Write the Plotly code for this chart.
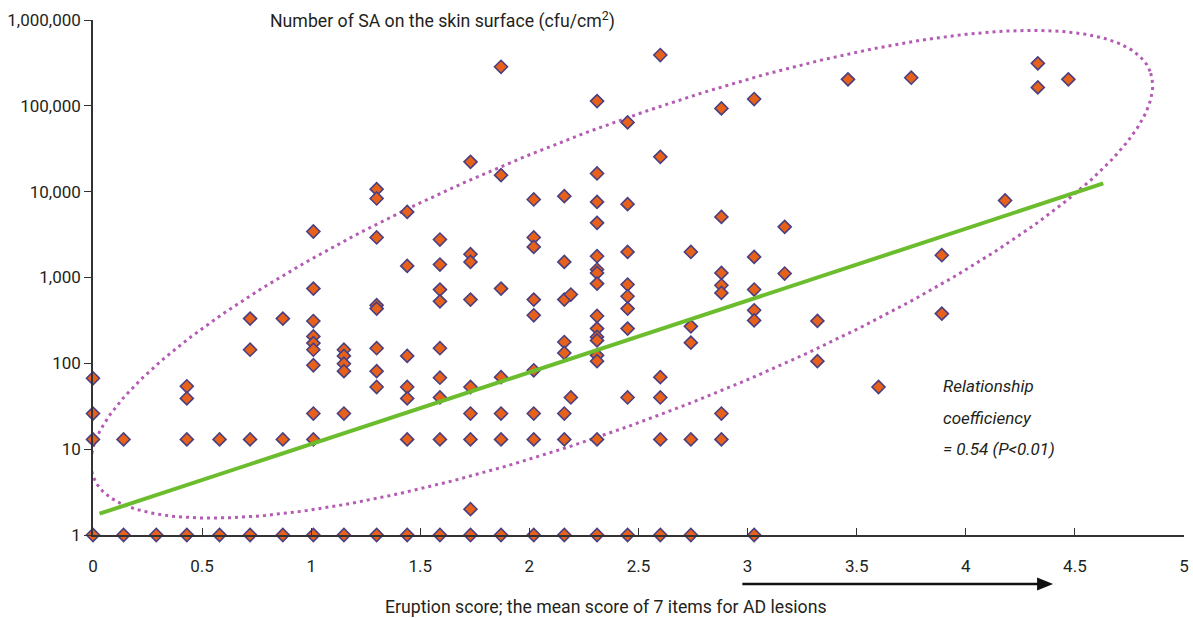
import numpy as np
import plotly.graph_objects as go

# ---- data ----
x_vals = [
    0.00, 0.00, 0.00, 0.00,
    0.14, 0.14,
    0.29,
    0.43, 0.43, 0.43, 0.43,
    0.58, 0.58,
    0.72, 0.72, 0.72, 0.72,
    0.87, 0.87, 0.87,
    1.01, 1.01, 1.01, 1.01, 1.01, 1.01, 1.01, 1.01, 1.01, 1.01,
    1.15, 1.15, 1.15, 1.15, 1.15, 1.15,
    1.30, 1.30, 1.30, 1.30, 1.30, 1.30, 1.30, 1.30, 1.30,
    1.44, 1.44, 1.44, 1.44, 1.44, 1.44, 1.44,
    1.59, 1.59, 1.59, 1.59, 1.59, 1.59, 1.59, 1.59, 1.59,
    1.73, 1.73, 1.73, 1.73, 1.73, 1.73, 1.73, 1.73, 1.73,
    1.87, 1.87, 1.87, 1.87, 1.87, 1.87, 1.87,
    2.02, 2.02, 2.02, 2.02, 2.02, 2.02, 2.02, 2.02, 2.02,
    2.16, 2.16, 2.16, 2.16, 2.16, 2.16, 2.16, 2.16,
    2.19, 2.19,
    2.31, 2.31, 2.31, 2.31, 2.31, 2.31, 2.31, 2.31, 2.31, 2.31, 2.31, 2.31, 2.31, 2.31, 2.31, 2.31,
    2.45, 2.45, 2.45, 2.45, 2.45, 2.45, 2.45, 2.45, 2.45,
    2.60, 2.60, 2.60, 2.60, 2.60, 2.60,
    2.74, 2.74, 2.74, 2.74, 2.74,
    2.88, 2.88, 2.88, 2.88, 2.88, 2.88, 2.88,
    3.03, 3.03, 3.03, 3.03, 3.03, 3.03,
    3.17, 3.17,
    3.32, 3.32,
    3.46,
    3.60,
    3.75,
    3.89, 3.89,
    4.18,
    4.33, 4.33,
    4.47,
]
sa_counts = [
    67, 26, 13, 1,
    13, 1,
    1,
    54, 39, 13, 1,
    13, 1,
    332, 144, 13, 1,
    332, 13, 1,
    3435, 743, 311, 206, 172, 144, 95, 26, 13, 1,
    144, 122, 99, 81, 26, 1,
    10700, 8330, 2925, 475, 434, 150, 81, 53, 1,
    5810, 1364, 122, 53, 39, 13, 1,
    2770, 1416, 723, 528, 150, 68, 40, 13, 1,
    22250, 1867, 1518, 553, 53, 26, 13, 2, 1,
    285000, 15570, 743, 69, 26, 13, 1,
    8110, 2925, 2270, 553, 363, 83, 26, 13, 1,
    8870, 1518, 553, 177, 132, 26, 13, 1,
    633, 40,
    113600, 16300, 7600, 4330, 1770, 1238, 1130, 849, 356, 254, 203, 185, 124, 106, 13, 1,
    64100, 7150, 1985, 828, 604, 434, 254, 40, 1,
    390500, 25450, 69, 40, 13, 1,
    1985, 270, 174, 13, 1,
    93400, 5080, 1130, 812, 661, 26, 13,
    120000, 1737, 724, 415, 316, 1,
    3890, 1113,
    312, 106,
    203400,
    53,
    212500,
    1817, 380,
    7890,
    312600, 164000,
    203400,
]

reg_x = [0.03, 4.63]
reg_y = [1.77, 12470]

x_tickvals = [0, 0.5, 1, 1.5, 2, 2.5, 3, 3.5, 4, 4.5, 5]
x_ticktext = ["0", "0.5", "1", "1.5", "2", "2.5", "3", "3.5", "4", "4.5", "5"]
y_tickvals = [1, 10, 100, 1000, 10000, 100000, 1000000]
y_ticktext = ["1", "10", "100", "1,000", "10,000", "100,000", "1,000,000"]

# ellipse (drawn outline), parameters in data-centre / pixel-size terms
ell_cx, ell_clog = 2.423, 3.038
ell_a_px, ell_b_px, ell_rot_deg = 566, 145, 21

# arrow under the x axis (x range in data units)
arrow_x0, arrow_x1 = 2.976, 4.40

# ---- layout geometry ----
W, H = 1193, 618
ML, MR, MT, MB = 93, 9, 20, 83
PW, PH = W - ML - MR, H - MT - MB
px_per_x = PW / 5.0
px_per_dec = PH / 6.0

t = np.linspace(0, 2 * np.pi, 500)
th = np.radians(ell_rot_deg)
u = ell_a_px * np.cos(t)
v = ell_b_px * np.sin(t)
dxp = u * np.cos(th) - v * np.sin(th)
dyp = u * np.sin(th) + v * np.cos(th)
ell_x = ell_cx + dxp / px_per_x
ell_y = 10 ** (ell_clog + dyp / px_per_dec)

FONT = "Roboto, 'Liberation Sans Narrow', sans-serif"
TXT = "#231f20"

fig = go.Figure()
fig.add_trace(go.Scatter(
    x=ell_x, y=ell_y, mode="lines",
    line=dict(color="#b45cb4", width=3, dash="3px,4px"),
    hoverinfo="skip", showlegend=False,
))
fig.add_trace(go.Scatter(
    x=x_vals, y=sa_counts, mode="markers",
    marker=dict(symbol="diamond", size=10, color="#e8611a",
                line=dict(color="#4a3f80", width=1.6)),
    cliponaxis=False, showlegend=False,
))
fig.add_trace(go.Scatter(
    x=reg_x, y=reg_y, mode="lines",
    line=dict(color="#6cbd2e", width=4),
    showlegend=False,
))

fig.update_layout(
    width=W, height=H,
    margin=dict(l=ML, r=MR, t=MT, b=MB, pad=0, autoexpand=False),
    paper_bgcolor="white", plot_bgcolor="white",
    font=dict(family=FONT, color=TXT, size=17),
    xaxis=dict(
        range=[0, 5], tickvals=x_tickvals, ticktext=x_ticktext,
        showgrid=False, zeroline=False, showline=True, automargin=False,
        linecolor="#333", linewidth=1.5,
        ticks="inside", ticklen=7, tickcolor="#333", tickwidth=1.2,
        tickfont=dict(size=17, family=FONT, color=TXT),
        ticklabelstandoff=15,
    ),
    yaxis=dict(
        type="log", range=[0, 6], tickvals=y_tickvals, ticktext=y_ticktext,
        showgrid=False, zeroline=False, showline=True, automargin=False,
        linecolor="#333", linewidth=1.5,
        ticks="outside", ticklen=7, tickcolor="#333", tickwidth=1.2,
        tickfont=dict(size=17, family=FONT, color=TXT),
    ),
)

ann_font = dict(family=FONT, size=17.7, color=TXT)
fig.add_annotation(
    text="Number of SA on the skin surface (cfu/cm<sup>2</sup>)",
    xref="paper", yref="paper", x=(268 - ML) / PW, y=1.0,
    xanchor="left", yanchor="middle", showarrow=False, font=ann_font,
)
fig.add_annotation(
    text="Eruption score; the mean score of 7 items for AD lesions",
    xref="paper", yref="paper", x=(606 - ML) / PW,
    y=(H - MB - 607) / PH,
    xanchor="center", yanchor="middle", showarrow=False, font=ann_font,
)
for i, line in enumerate(["Relationship", "coefficiency", "= 0.54 (P&lt;0.01)"]):
    fig.add_annotation(
        text="<i>" + line + "</i>", xref="x", yref="paper",
        x=(941 - ML) / px_per_x, y=(H - MB - (386 + 31.5 * i)) / PH,
        xanchor="left", yanchor="middle", showarrow=False,
        font=dict(family=FONT, size=17, color=TXT),
    )

# arrow below the x axis, drawn as shapes
ay = (H - MB - 584) / PH
head_len = 16 / px_per_x
head_half = 6.5 / PH
fig.add_shape(type="line", xref="x", yref="paper",
              x0=arrow_x0, x1=arrow_x1 - head_len * 0.8, y0=ay, y1=ay,
              line=dict(color="#111", width=2.5))
fig.add_shape(type="path", xref="x", yref="paper",
              path=f"M {arrow_x1} {ay} L {arrow_x1 - head_len} {ay + head_half} "
                   f"L {arrow_x1 - head_len} {ay - head_half} Z",
              fillcolor="#111", line=dict(color="#111", width=0))

fig.write_html("out.html")
